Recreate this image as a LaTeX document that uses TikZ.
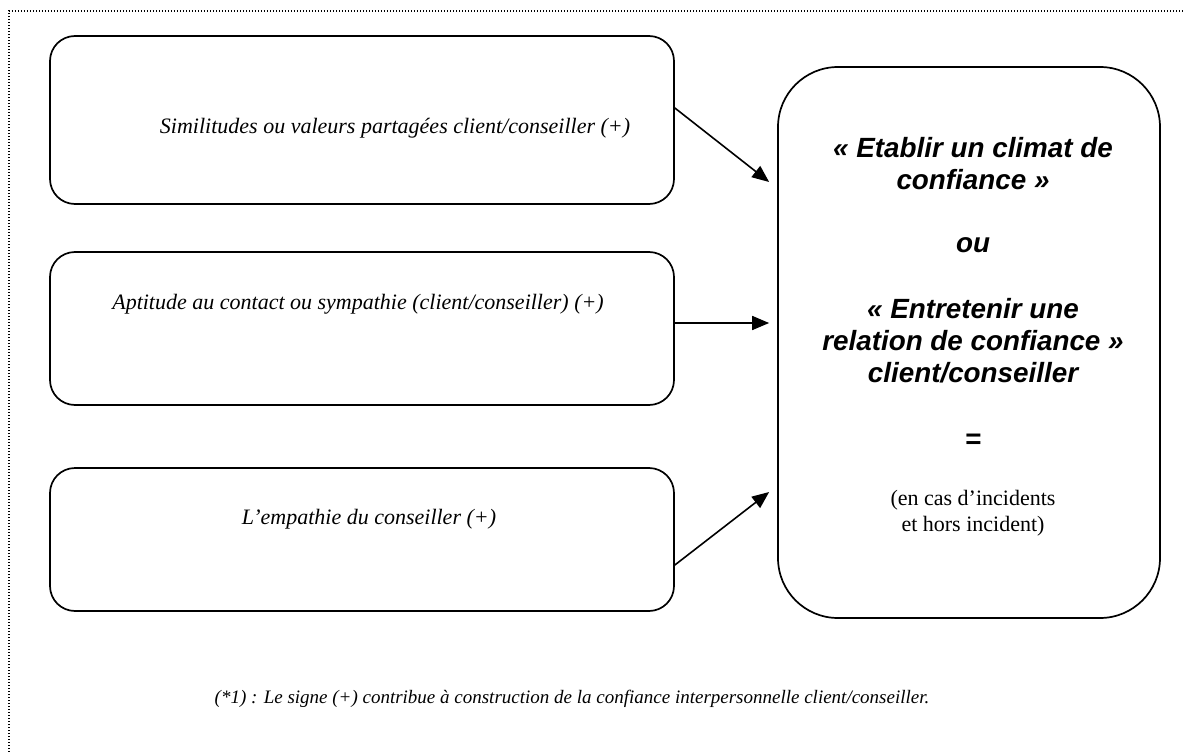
\documentclass[tikz,border=0pt]{standalone}
\usepackage{fontspec}
\setmainfont{Liberation Serif}
\setsansfont{Liberation Sans}
\usetikzlibrary{arrows.meta,calc}
\tikzset{
  box/.style={draw, line width=1.7pt, rounded corners=25pt, inner sep=0pt, minimum width=624pt},
  bigbox/.style={draw, line width=1.7pt, rounded corners=60pt, inner sep=0pt, minimum width=382pt, minimum height=551pt},
  arr/.style={line width=1.6pt, -{Triangle[length=17pt,width=14pt]}},
  boxtxt/.style={anchor=base, inner sep=0pt, font=\fontsize{22}{26}\selectfont\itshape},
  bigtxt/.style={anchor=base, inner sep=0pt, font=\fontsize{27.8}{32}\selectfont\sffamily\bfseries\itshape},
  rmtxt/.style={anchor=base, inner sep=0pt, font=\fontsize{22}{26}\selectfont},
  frame/.style={line width=1.5pt, dash pattern=on 1.4pt off 1.6pt}
}
\begin{document}
\begin{tikzpicture}[x=1pt,y=-1pt]
\useasboundingbox (0,0) rectangle (1184,752);
\coordinate (fc) at (9,11);
\coordinate (fr) at (1184,11);
\coordinate (fb) at (9,752);
\draw[frame] (fb) -- (fc) -- (fr);

\node[box, minimum height=168pt] (B1) at (362,120) {};
\node[box, minimum height=153pt] (B2) at (362,328.5) {};
\node[box, minimum height=143pt] (B3) at (362,539.5) {};
\node[bigbox] (R) at (969,342.5) {};

\node[boxtxt] (t1) at (395,133) {Similitudes ou valeurs partagées client/conseiller (+)};
\node[boxtxt] (t2) at (358,309) {Aptitude au contact ou sympathie (client/conseiller) (+)};
\node[boxtxt] (t3) at (369,524) {L’empathie du conseiller (+)};

\node[bigtxt] (r1) at (973,157) {« Etablir un climat de};
\node[bigtxt] (r2) at (973,189) {confiance »};
\node[bigtxt] (r3) at (973,252) {ou};
\node[bigtxt] (r4) at (973,318) {« Entretenir une};
\node[bigtxt] (r5) at (973,350) {relation de confiance »};
\node[bigtxt] (r6) at (973,382) {client/conseiller};
\node[bigtxt] (r7) at (973,448) {=};
\node[rmtxt] (r8) at (973,505) {(en cas d’incidents};
\node[rmtxt] (r9) at (973,531) {et hors incident)};

\node[boxtxt, font=\fontsize{19}{23}\selectfont\itshape] (fn) at (572,703) {(*1) : Le signe (+) contribue à construction de la confiance interpersonnelle client/conseiller.};

\draw[arr] ($(B1.east)+(0,-12)$) -- ($(R.west)+(-8,-160.5)$);
\draw[arr] ($(B2.east)+(0,-5.5)$) -- ($(R.west)+(-8,-19.5)$);
\draw[arr] ($(B3.east)+(0,25.5)$) -- ($(R.west)+(-8,149.5)$);
\end{tikzpicture}
\end{document}
